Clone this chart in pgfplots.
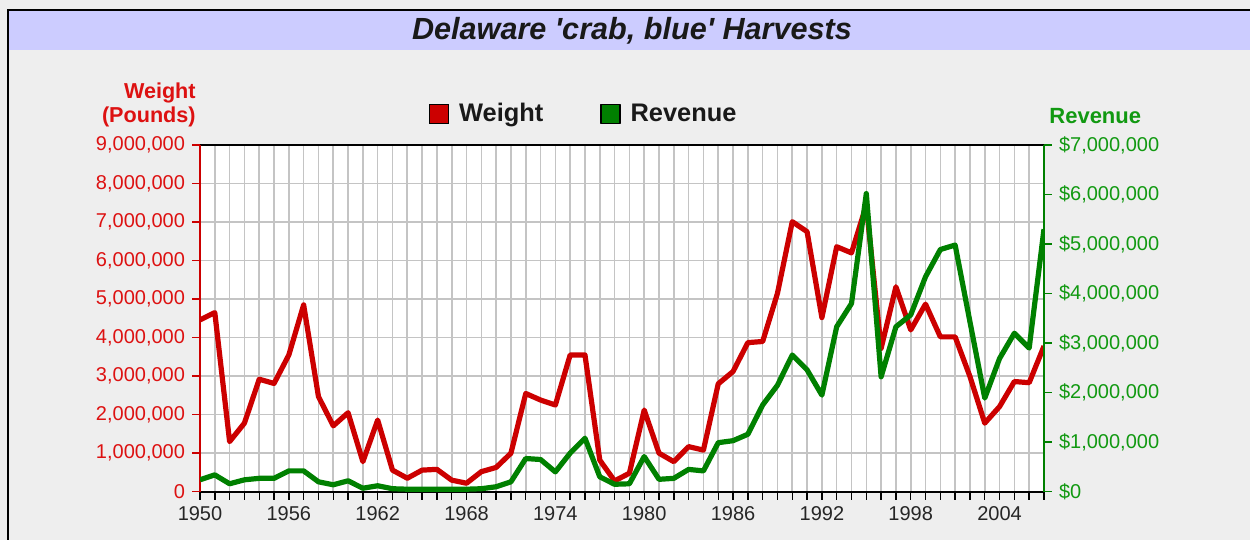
\documentclass[border=0pt]{standalone}
\usepackage{pgfplots}
\pgfplotsset{compat=1.18}
\usepackage{fontspec}
\setmainfont{Liberation Sans}
\definecolor{wred}{HTML}{CC0000}
\definecolor{wredtxt}{HTML}{DD1111}
\definecolor{rgreen}{HTML}{008000}
\definecolor{rgreentxt}{HTML}{119911}
\definecolor{bgc}{HTML}{EEEEEE}
\definecolor{titlebar}{HTML}{CCCCFF}
\definecolor{gridc}{HTML}{C4C4C4}

\pgfplotstableread{
year weight
1950 4460000
1951 4650000
1952 1300000
1953 1780000
1954 2920000
1955 2810000
1956 3550000
1957 4850000
1958 2470000
1959 1710000
1960 2050000
1961 780000
1962 1860000
1963 560000
1964 350000
1965 560000
1966 580000
1967 300000
1968 220000
1969 520000
1970 630000
1971 1000000
1972 2550000
1973 2380000
1974 2250000
1975 3550000
1976 3550000
1977 820000
1978 280000
1979 480000
1980 2120000
1981 1000000
1982 780000
1983 1170000
1984 1080000
1985 2800000
1986 3120000
1987 3870000
1988 3900000
1989 5150000
1990 7010000
1991 6750000
1992 4520000
1993 6360000
1994 6200000
1995 7440000
1996 3720000
1997 5320000
1998 4200000
1999 4870000
2000 4020000
2001 4020000
2002 2990000
2003 1780000
2004 2210000
2005 2860000
2006 2830000
2007 3780000
}\weighttable

\pgfplotstableread{
year revenue
1950 240000
1951 340000
1952 160000
1953 240000
1954 270000
1955 270000
1956 420000
1957 420000
1958 200000
1959 140000
1960 220000
1961 70000
1962 120000
1963 60000
1964 50000
1965 50000
1966 50000
1967 50000
1968 50000
1969 60000
1970 100000
1971 200000
1972 670000
1973 650000
1974 400000
1975 780000
1976 1080000
1977 300000
1978 150000
1979 160000
1980 710000
1981 250000
1982 270000
1983 450000
1984 420000
1985 990000
1986 1030000
1987 1160000
1988 1750000
1989 2150000
1990 2760000
1991 2460000
1992 1950000
1993 3330000
1994 3800000
1995 6020000
1996 2320000
1997 3330000
1998 3570000
1999 4340000
2000 4890000
2001 4980000
2002 3430000
2003 1890000
2004 2690000
2005 3200000
2006 2900000
2007 5300000
}\revenuetable

\begin{document}
\begin{tikzpicture}
\useasboundingbox (0,0) rectangle (625pt,-270pt);
\fill[bgc] (0,0) rectangle (625pt,-270pt);
\fill[titlebar] (4pt,-5.5pt) rectangle (625pt,-25pt);
\draw[black,line width=1pt] (4pt,-270pt) -- (4pt,-5pt) -- (625pt,-5pt);
\node[font=\bfseries\itshape\fontsize{15.3}{18}\selectfont, text=black!90] at (316pt,-15.3pt) {Delaware \textquotesingle crab, blue\textquotesingle\ Harvests};

\begin{axis}[
  at={(100pt,-245.85pt)}, anchor=south west,
  scale only axis, width=422pt, height=173.35pt,
  xmin=1950, xmax=2007, ymin=0, ymax=9000000,
  separate axis lines, axis x line*=box, axis y line*=left,
  x axis line style={black, line width=1pt},
  y axis line style={wred, line width=0.8pt},
  xtick={1950,1951,...,2007},
  xticklabels={1950,,,,,,1956,,,,,,1962,,,,,,1968,,,,,,1974,,,,,,1980,,,,,,1986,,,,,,1992,,,,,,1998,,,,,,2004,,,},
  xtick pos=bottom, xticklabel pos=bottom,
  ytick={0,1000000,...,9000000},
  tick align=outside, major tick length=4pt,
  xmajorgrids, ymajorgrids,
  major grid style={gridc, line width=0.8pt},
  x tick style={black, line width=0.7pt},
  y tick style={wred, line width=0.7pt},
  scaled y ticks=false,
  /pgf/number format/assume math mode=true,
  yticklabel style={font=\fontsize{10}{12}\selectfont, text=wredtxt, /pgf/number format/.cd, fixed, 1000 sep={,}},
  xticklabel style={font=\fontsize{10}{12}\selectfont, text=black!85},
  axis background/.style={fill=white},
]
\addplot[wred, line width=2.6pt, line join=round] table[x=year, y=weight] {\weighttable};
\end{axis}

\begin{axis}[
  at={(100pt,-245.85pt)}, anchor=south west,
  scale only axis, width=422pt, height=173.35pt,
  xmin=1950, xmax=2007, ymin=0, ymax=7000000,
  axis x line=none, axis y line*=right,
  y axis line style={rgreen, line width=0.8pt},
  ytick={0,1000000,...,7000000},
  tick align=outside, major tick length=4pt,
  y tick style={rgreen, line width=0.7pt},
  scaled y ticks=false,
  /pgf/number format/assume math mode=true,
  yticklabel={\$\pgfmathprintnumber[fixed,1000 sep={,}]{\tick}},
  yticklabel style={font=\fontsize{10}{12}\selectfont, text=rgreentxt},
  legend columns=2,
  legend style={at={(axis description cs:0.2713,1.089)}, anchor=west,
    draw=none, fill=none, inner sep=0pt, outer sep=0pt,
    nodes={inner sep=0pt, anchor=west},
    /tikz/every odd column/.style={column sep=5pt},
    /tikz/every even column/.style={column sep=28.5pt},
    font=\bfseries\fontsize{12.7}{14}\selectfont, text=black!90},
]
\addlegendimage{legend image code/.code={\draw[fill=wred,draw=black,line width=0.6pt] (0pt,-4.75pt) rectangle (9.5pt,4.75pt);}}
\addlegendentry{Weight}
\addplot[rgreen, line width=2.6pt, line join=round,
  legend image code/.code={\draw[fill=rgreen,draw=black,line width=0.6pt] (0pt,-4.75pt) rectangle (9.5pt,4.75pt);}]
  table[x=year, y=revenue] {\revenuetable};
\addlegendentry{Revenue}
\end{axis}

\node[anchor=east, align=right, inner sep=0pt, font=\bfseries\fontsize{10.8}{12}\selectfont, text=wredtxt] at (98pt,-52.5pt) {Weight\\(Pounds)};
\node[anchor=west, inner sep=0pt, font=\bfseries\fontsize{11}{12}\selectfont, text=rgreentxt] at (524.5pt,-58pt) {Revenue};
\end{tikzpicture}
\end{document}
